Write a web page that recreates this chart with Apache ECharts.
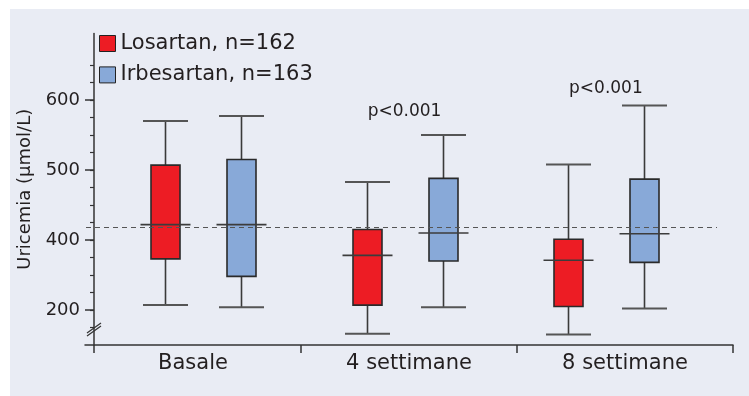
<!DOCTYPE html>
<html><head><meta charset="utf-8">
<script src="https://cdn.jsdelivr.net/npm/echarts@6/dist/echarts.min.js"></script>
<style>
html,body{margin:0;padding:0;background:#fff;}
#bg{position:absolute;left:10px;top:9px;width:739px;height:387px;background:#e9ecf4;}
#chart{position:absolute;left:0;top:0;width:749px;height:396px;}
</style></head><body>
<div id="bg"></div>
<div id="chart"></div>
<script>
// ---------------- data ----------------
const categories = ['Basale', '4 settimane', '8 settimane'];
const seriesNames = ['Losartan, n=162', 'Irbesartan, n=163'];
// each entry: [lower whisker, Q1, median, Q3, upper whisker]
const losartan = [[307, 373, 422, 507, 570], [266, 307, 378, 415, 483], [265, 305, 371, 401, 508]];
const irbesartan = [[304, 348, 422, 515, 577], [304, 370, 410, 488, 550], [302, 368, 409, 487, 592]];
const referenceLevel = 418;
const pValueCategories = ['4 settimane', '8 settimane'];
const pValueTexts = ['p<0.001', 'p<0.001'];
const pValueHeights = [584, 616];
const yTickValues = [300, 400, 500, 600];
const yTickLabels = ['200', '400', '500', '600'];
const yMin = 250, yMax = 695;

// ---------------- styling ----------------
const FONT = 'DejaVu Sans';
const TXT = '#231f20';
const RED = '#ed1c24';
const BLUE = '#88a9d8';
const GRID0_LEFT = 102.4, GRID0_RIGHT = 42.4, GRID_TOP = 33.5, GRID_BOTTOM = 51;
const Y_OFFSET = 8.4;

const minorTicks = [];
for (let v = 275; v <= 650; v += 25) minorTicks.push(v);

function boxRenderer(offset, fill) {
  return function (params, api) {
    const ci = api.value(0);
    const low = api.coord([ci, api.value(1)]);
    const q1 = api.coord([ci, api.value(2)]);
    const med = api.coord([ci, api.value(3)]);
    const q3 = api.coord([ci, api.value(4)]);
    const high = api.coord([ci, api.value(5)]);
    const x = Math.round(low[0] + offset) + 0.5;
    const bw = 29, cw = 45, mw = 50;
    const wStyle = { stroke: '#3a3a3a', lineWidth: 1.6 };
    const cStyle = { stroke: '#555555', lineWidth: 2 };
    return {
      type: 'group',
      children: [
        { type: 'line', shape: { x1: x, y1: high[1], x2: x, y2: q3[1] }, style: wStyle },
        { type: 'line', shape: { x1: x, y1: q1[1], x2: x, y2: low[1] }, style: wStyle },
        { type: 'line', shape: { x1: x - cw / 2, y1: high[1], x2: x + cw / 2, y2: high[1] }, style: cStyle },
        { type: 'line', shape: { x1: x - cw / 2, y1: low[1], x2: x + cw / 2, y2: low[1] }, style: cStyle },
        { type: 'rect', shape: { x: x - bw / 2, y: q3[1], width: bw, height: q1[1] - q3[1] },
          style: { fill: fill, stroke: '#2a2a2a', lineWidth: 1.6 } },
        { type: 'line', shape: { x1: x - mw / 2, y1: med[1], x2: x + mw / 2, y2: med[1] },
          style: { stroke: '#3c3c3c', lineWidth: 1.6 } }
      ]
    };
  };
}

const chart = echarts.init(document.getElementById('chart'), null, { renderer: 'canvas' });

const option = {
  animation: false,
  backgroundColor: 'transparent',
  textStyle: { fontFamily: FONT, color: TXT },
  legend: {
    orient: 'vertical', left: 99, top: 33, padding: 0,
    itemWidth: 16, itemHeight: 16, itemGap: 10.4,
    textStyle: { fontSize: 21, color: TXT, fontFamily: FONT },
    data: [
      { name: seriesNames[0], icon: 'rect', itemStyle: { color: RED, borderColor: '#222', borderWidth: 1 } },
      { name: seriesNames[1], icon: 'rect', itemStyle: { color: BLUE, borderColor: '#222', borderWidth: 1 } }
    ],
    selectedMode: false
  },
  grid: [
    { left: GRID0_LEFT, right: GRID0_RIGHT, top: GRID_TOP, bottom: GRID_BOTTOM, containLabel: false },
    { left: 85, right: 16, top: GRID_TOP, bottom: GRID_BOTTOM, containLabel: false }
  ],
  xAxis: [
    { type: 'category', gridIndex: 0, data: categories, boundaryGap: true,
      axisLine: { show: false }, axisTick: { show: false }, axisLabel: { show: false }, splitLine: { show: false } },
    { type: 'category', gridIndex: 1, data: categories, boundaryGap: true,
      axisLine: { show: true, lineStyle: { color: '#333', width: 1.5 } },
      axisTick: { show: true, length: 8, lineStyle: { color: '#333', width: 1.5 },
        interval: function (idx) { return idx !== 0; } },
      axisLabel: { fontSize: 21, color: TXT, fontFamily: FONT, margin: 8 },
      splitLine: { show: false } }
  ],
  yAxis: [
    { type: 'value', gridIndex: 0, position: 'left', min: yMin, max: yMax, offset: Y_OFFSET,
      name: 'Uricemia (µmol/L)', nameLocation: 'middle', nameGap: 50,
      nameTextStyle: { fontSize: 18, color: TXT, fontFamily: FONT },
      axisLine: { show: true, lineStyle: { color: '#333', width: 1.5 } },
      axisTick: { show: true, length: 9, customValues: yTickValues, lineStyle: { color: '#333', width: 1.5 } },
      axisLabel: { fontSize: 18, color: TXT, fontFamily: FONT, margin: 14, customValues: yTickValues,
        formatter: function (v) { const i = yTickValues.indexOf(v); return i >= 0 ? yTickLabels[i] : ''; } },
      splitLine: { show: false } },
    { type: 'value', gridIndex: 0, position: 'left', min: yMin, max: yMax, offset: Y_OFFSET,
      axisLine: { show: false },
      axisTick: { show: true, length: 4, customValues: minorTicks, lineStyle: { color: '#333', width: 1.2 } },
      axisLabel: { show: false }, splitLine: { show: false } },
    { type: 'value', gridIndex: 1, min: yMin, max: yMax, show: false }
  ],
  series: [
    { name: seriesNames[0], type: 'custom', xAxisIndex: 0, yAxisIndex: 0,
      itemStyle: { color: RED },
      renderItem: boxRenderer(-38, RED),
      encode: { x: 0, y: [1, 2, 3, 4, 5] },
      data: losartan.map((d, i) => [i].concat(d)),
      markLine: {
        silent: true, symbol: 'none', label: { show: false },
        lineStyle: { color: '#555', width: 1.2, type: [5, 4] },
        data: [[{ x: 86, yAxis: referenceLevel }, { x: 717, yAxis: referenceLevel }]]
      } },
    { name: seriesNames[1], type: 'custom', xAxisIndex: 0, yAxisIndex: 0,
      itemStyle: { color: BLUE },
      renderItem: boxRenderer(38, BLUE),
      encode: { x: 0, y: [1, 2, 3, 4, 5] },
      data: irbesartan.map((d, i) => [i].concat(d)) },
    { name: 'pvalues', type: 'custom', xAxisIndex: 0, yAxisIndex: 0, silent: true,
      renderItem: function (params, api) {
        const p = api.coord([api.value(0), api.value(1)]);
        return { type: 'text', x: p[0], y: p[1],
          style: { text: pValueTexts[params.dataIndex], fill: TXT, font: '17px "DejaVu Sans"', align: 'center', verticalAlign: 'middle' } };
      },
      encode: { x: 0, y: 1 },
      data: pValueCategories.map((c, i) => [categories.indexOf(c), pValueHeights[i]]) }
  ]
};
chart.setOption(option);

// axis-break marks and the short downward extension of the y axis
const breakY = chart.convertToPixel({ yAxisIndex: 0 }, 272);
const baseY = chart.convertToPixel({ yAxisIndex: 0 }, yMin);
const axisX = GRID0_LEFT - Y_OFFSET;
chart.setOption({
  graphic: [
    { type: 'line', shape: { x1: axisX - 7, y1: breakY + 3.5, x2: axisX + 7, y2: breakY - 6.5 }, style: { stroke: '#333', lineWidth: 1.2 } },
    { type: 'line', shape: { x1: axisX - 7, y1: breakY + 6.5, x2: axisX + 7, y2: breakY - 3.5 }, style: { stroke: '#333', lineWidth: 1.2 } },
    { type: 'line', shape: { x1: axisX, y1: baseY, x2: axisX, y2: baseY + 8 }, style: { stroke: '#333', lineWidth: 1.5 } }
  ]
});
</script>
</body></html>
